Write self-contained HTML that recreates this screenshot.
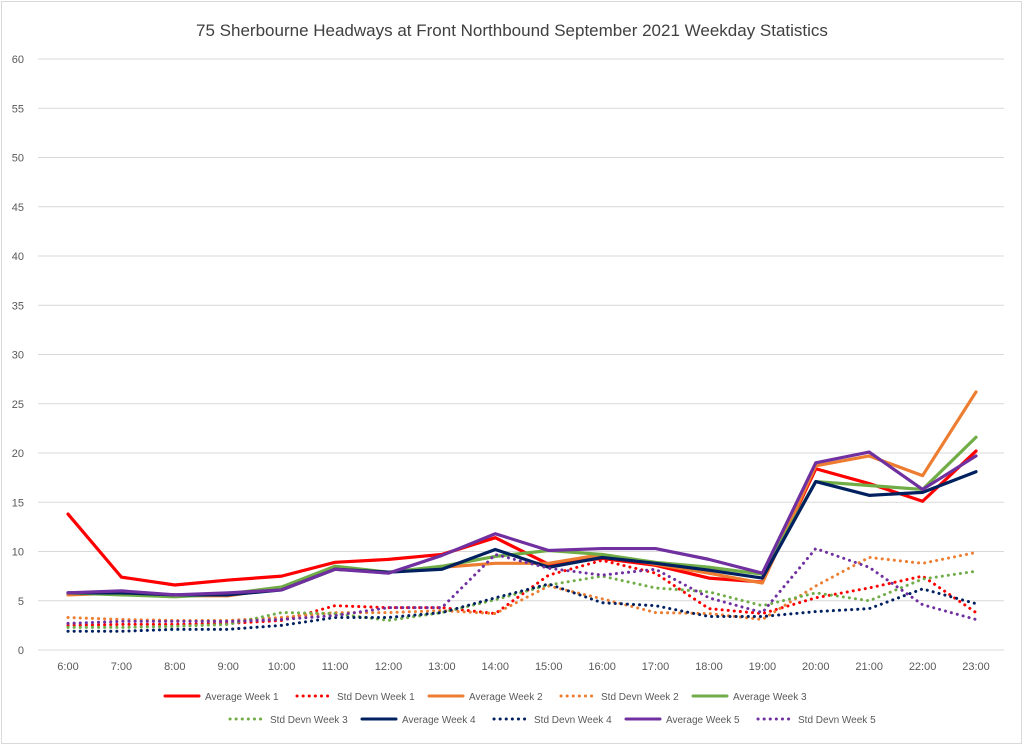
<!DOCTYPE html>
<html><head><meta charset="utf-8"><style>
body{margin:0;background:#fff;font-family:"Liberation Sans",sans-serif}
svg text{font-family:"Liberation Sans",sans-serif}
</style></head><body>
<svg id="c" width="1024" height="746" xmlns="http://www.w3.org/2000/svg">
<rect x="1.5" y="1.5" width="1020" height="742" fill="#fff" stroke="#d9d9d9"/>
<text x="512" y="36" text-anchor="middle" font-size="17" fill="#404040">75 Sherbourne Headways at Front Northbound September 2021 Weekday Statistics</text>
<g id="grid"></g><g id="series"></g><g id="legend"></g>
</svg>
<script>
const categories=["6:00","7:00","8:00","9:00","10:00","11:00","12:00","13:00","14:00","15:00","16:00","17:00","18:00","19:00","20:00","21:00","22:00","23:00"];
const yTicks=[0,5,10,15,20,25,30,35,40,45,50,55,60];
const avgW1=[13.8,7.4,6.6,7.1,7.5,8.9,9.2,9.7,11.4,8.7,9.3,8.6,7.3,6.9,18.4,16.9,15.1,20.2];
const sdW1=[2.5,2.6,2.6,2.7,3.0,4.5,4.3,4.3,3.7,7.6,9.1,7.8,4.2,3.7,5.3,6.3,7.5,3.8];
const avgW2=[5.6,5.8,5.5,5.5,6.3,8.2,7.9,8.4,8.8,8.8,9.7,8.7,7.8,6.8,18.7,19.7,17.7,26.2];
const sdW2=[3.3,3.1,3.0,3.0,3.3,3.8,3.8,4.0,3.7,6.5,5.2,3.8,3.7,3.1,6.5,9.4,8.8,9.9];
const avgW3=[5.8,5.6,5.4,5.7,6.4,8.5,7.9,8.5,9.5,10.1,9.7,8.9,8.4,7.7,17.1,16.7,16.3,21.6];
const sdW3=[2.3,2.3,2.4,2.6,3.8,3.7,3.0,3.8,5.1,6.6,7.5,6.3,5.9,4.5,5.8,5.0,7.2,8.0];
const avgW4=[5.8,5.8,5.6,5.6,6.1,8.2,7.9,8.2,10.2,8.4,9.4,8.8,8.1,7.3,17.1,15.7,16.0,18.1];
const sdW4=[1.9,1.9,2.1,2.1,2.5,3.3,3.3,3.8,5.3,6.7,4.8,4.5,3.4,3.4,3.9,4.2,6.2,4.7];
const avgW5=[5.8,6.0,5.6,5.8,6.1,8.2,7.8,9.6,11.8,10.1,10.3,10.3,9.2,7.8,19.0,20.1,16.3,19.7];
const sdW5=[2.7,2.9,2.9,2.9,3.1,3.5,4.3,4.3,9.7,8.3,7.6,8.2,5.3,3.8,10.3,8.4,4.6,3.1];
const seriesNames=["Average Week 1","Std Devn Week 1","Average Week 2","Std Devn Week 2","Average Week 3","Std Devn Week 3","Average Week 4","Std Devn Week 4","Average Week 5","Std Devn Week 5"];
const seriesData=[avgW1,sdW1,avgW2,sdW2,avgW3,sdW3,avgW4,sdW4,avgW5,sdW5];
const colors=["#ff0000","#ff0000","#ed7d31","#ed7d31","#70ad47","#70ad47","#002060","#002060","#7030a0","#7030a0"];
const NS="http://www.w3.org/2000/svg";
const x0=68,x1=976,yb=650,yt=59,ymax=60;
const xs=i=>x0+(x1-x0)*i/(categories.length-1);
const ys=v=>yb-(yb-yt)*v/ymax;
function mk(t,a,p){const e=document.createElementNS(NS,t);for(const k in a)e.setAttribute(k,a[k]);p.appendChild(e);return e;}
const grid=document.getElementById('grid');
yTicks.forEach(v=>{
 const l=mk('line',{x1:38,x2:1004,y1:ys(v),y2:ys(v),stroke:'#d9d9d9','stroke-width':1},grid);
 
 
 const t=mk('text',{x:24,y:ys(v)+4,'text-anchor':'end','font-size':11,fill:'#595959'},grid);
 t.textContent=v;
 
 
});
categories.forEach((c,i)=>{
 const t=mk('text',{x:xs(i),y:670,'text-anchor':'middle','font-size':11,fill:'#595959'},grid);
 t.textContent=c;
 
 
});
const sg=document.getElementById('series');
seriesData.forEach((d,s)=>{
 const dotted=s%2===1;
 const p=mk('polyline',{points:d.map((v,i)=>xs(i)+','+ys(v)).join(' '),fill:'none',stroke:colors[s],'stroke-width':dotted?3:3.2,'stroke-linejoin':'round','stroke-linecap':'round'},sg);
 if(dotted){p.setAttribute('stroke-dasharray','0.1 6');}
 
 
});
const lg=document.getElementById('legend');
seriesNames.forEach((n,s)=>{
 const row=s<5?0:1, col=s<5?s:s-5;
 const bx=(row===0?165:230)+col*132, by=row===0?696:719;
 const g=mk('g',{},lg);
 
 
 const l=mk('line',{x1:bx,x2:bx+34,y1:by,y2:by,stroke:colors[s],'stroke-width':3,'stroke-linecap':'round'},g);
 if(s%2===1)l.setAttribute('stroke-dasharray','0.1 6');
 const t=mk('text',{x:bx+40,y:by+4,'font-size':10,fill:'#595959'},g);
 t.textContent=n;
});
</script>
</body></html>
